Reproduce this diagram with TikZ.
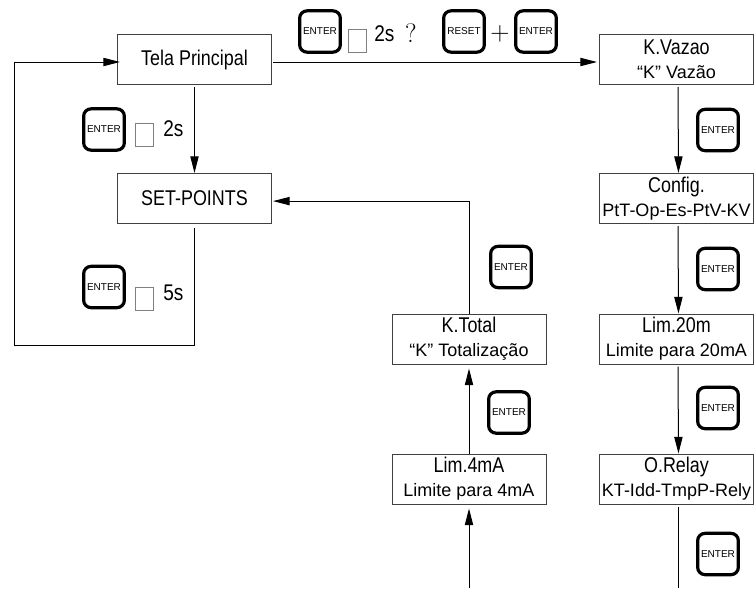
\documentclass[tikz,border=0pt]{standalone}
\usepackage{fontspec}
\setmainfont{Liberation Sans}
\newfontfamily\tallfont[FakeStretch=0.84]{Liberation Sans}
\usetikzlibrary{arrows.meta}
\newcommand{\boxhead}[1]{{\tallfont\fontsize{16pt}{18pt}\selectfont #1}\\[2pt]}
\begin{document}
\begin{tikzpicture}[x=0.75pt, y=-0.75pt, font=\fontsize{13.5pt}{16pt}\selectfont,
      >={Stealth[length=12.5pt,width=6.2pt,inset=0pt]},
      conn/.style={draw=black, line width=0.75pt},
      box/.style={draw=black!75, line width=0.75pt, minimum width=115.5pt, minimum height=37.5pt,
        align=center, inner sep=0pt},
      btn/.style={draw=black, line width=2.4pt, rounded corners=5.5pt, minimum width=30.5pt, minimum height=31pt,
        inner sep=0pt, font=\fontsize{7.5pt}{8pt}\selectfont},
      sq/.style={draw=black!50, line width=0.5pt, minimum width=13.5pt, minimum height=17pt, inner sep=0pt},
      delay/.style={anchor=west, inner sep=0pt, font=\tallfont\fontsize{17pt}{18pt}\selectfont}]
    \useasboundingbox (0,0) rectangle (754,589);
    % main screen and set-points
    \node[box, font=\tallfont\fontsize{16pt}{18pt}\selectfont] (tela) at (194.5,59.5) {Tela Principal};
    \node[box, font=\tallfont\fontsize{16pt}{18pt}\selectfont] (setp) at (194.5,198.5) {SET-POINTS};
    % right column
    \node[box] (vazao) at (676.5,59.5) {\boxhead{K.Vazao}``K'' Vazão};
    \node[box] (config) at (676.5,198.5) {\boxhead{Config.}PtT-Op-Es-PtV-KV};
    \node[box] (limA) at (676.5,339) {\boxhead{Lim.20m}Limite para 20mA};
    \node[box] (relay) at (676.5,479) {\boxhead{O.Relay}KT-Idd-TmpP-Rely};
    % middle column
    \node[box] (total) at (469,339) {\boxhead{K.Total}``K'' Totalização};
    \node[box] (limB) at (469,479) {\boxhead{Lim.4mA}Limite para 4mA};
    % keys
    \node[btn] (keyA) at (320,31.5) {ENTER};
    \node[btn] (keyB) at (464,31.5) {RESET};
    \node[btn] (keyC) at (536,31.5) {ENTER};
    \node[btn] (keyD) at (104,129.5) {ENTER};
    \node[btn] (keyE) at (104,287) {ENTER};
    \node[btn] (keyF) at (718,130) {ENTER};
    \node[btn] (keyG) at (718,269) {ENTER};
    \node[btn] (keyH) at (718,408) {ENTER};
    \node[btn] (keyI) at (718,554) {ENTER};
    \node[btn] (keyJ) at (511,267) {ENTER};
    \node[btn] (keyK) at (509,412.5) {ENTER};
    % hold marks and times
    \node[sq] (sqA) at (357,40.5) {};
    \node[sq] (sqD) at (144,135) {};
    \node[sq] (sqE) at (144,299) {};
    \node[delay] (timeA) at (374,34) {2s};
    \node[anchor=center, inner sep=0pt, font=\fontfamily{lmr}\fontsize{20pt}{20pt}\selectfont] (ask) at (411,33) {?};
    \node[anchor=center, inner sep=0pt, font=\fontfamily{lmr}\fontsize{20pt}{20pt}\selectfont] (plus) at (500,34) {+};
    \node[delay] (timeD) at (163,129) {2s};
    \node[delay] (timeE) at (163,293) {5s};
    % free ends of the connectors
    \coordinate (left) at (14,62);
    \coordinate (low) at (14,345);
    \coordinate (turn) at (194.5,345);
    \coordinate (endA) at (678,588);
    \coordinate (endB) at (469,588);
    % arrows
    \draw[conn, ->] (tela.south) ++(0,2) -- (setp.north);
    \draw[conn, ->] (setp.south) ++(0,4) -- (turn) -- (low) -- (left) -- ([shift={(3,2.5)}]tela.west);
    \draw[conn, ->] ([shift={(1,2.5)}]tela.east) -- ([shift={(-2,2.5)}]vazao.west);
    \draw[conn, ->] ([shift={(1.5,2)}]vazao.south) -- ([xshift=1.5pt]config.north);
    \draw[conn, ->] ([shift={(1.5,2)}]config.south) -- ([xshift=1.5pt]limA.north);
    \draw[conn, ->] ([shift={(1.5,2)}]limA.south) -- ([xshift=1.5pt]relay.north);
    \draw[conn] ([shift={(1.5,2)}]relay.south) -- (endA);
    \draw[conn, ->] (endB) -- ([yshift=-3pt]limB.south);
    \draw[conn, ->] (limB.north) -- ([yshift=-3pt]total.south);
    \draw[conn, ->] (total.north) |- ([shift={(1,2.6)}]setp.east);
  \end{tikzpicture}
\end{document}
